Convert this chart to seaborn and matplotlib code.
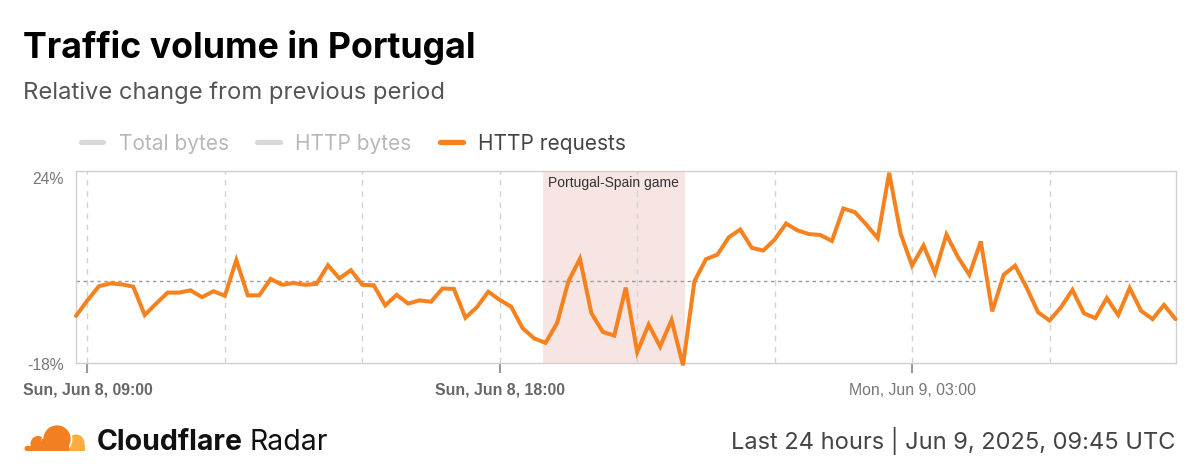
import numpy as np
import pandas as pd
import matplotlib
matplotlib.use("Agg")
import matplotlib.pyplot as plt
import seaborn as sns
from matplotlib.lines import Line2D
from matplotlib.patches import Circle, Rectangle, FancyBboxPatch
from matplotlib.transforms import Bbox, TransformedBbox, blended_transform_factory

# ---------------- data ----------------
start_time = "2025-06-08 08:45"
interval = "15min"
http_requests = [
    -7.7, -4.3, -1.2, -0.6, -0.8, -1.3, -7.5, -5.0, -2.6, -2.6,
    -2.1, -3.6, -2.3, -3.3, 4.5, -3.2, -3.2, 0.4, -0.9, -0.5,
    -0.9, -0.7, 3.4, 0.5, 2.3, -0.9, -1.0, -5.4, -3.1, -5.0,
    -4.3, -4.6, -1.7, -1.8, -8.1, -5.8, -2.4, -4.2, -5.7, -10.4,
    -12.6, -13.6, -9.3, -0.1, 4.8, -7.1, -11.2, -12.0, -1.5, -15.6,
    -9.6, -14.4, -8.6, -18.5, -0.1, 4.7, 5.7, 9.5, 11.2, 7.2,
    6.6, 9.0, 12.5, 11.0, 10.2, 10.0, 8.7, 15.8, 15.0, 12.3,
    9.3, 23.6, 10.3, 3.3, 7.7, 1.7, 10.1, 5.2, 1.3, 8.6,
    -6.7, 1.3, 3.3, -1.5, -6.9, -8.7, -5.8, -2.0, -7.1, -8.2,
    -3.8, -7.5, -1.6, -6.6, -8.4, -5.3, -8.4,
]
game_start = "2025-06-08 18:56"
game_end = "2025-06-08 22:02"
game_label = "Portugal-Spain game"
y_ticks = [-18, 24]
y_tick_labels = ["-18%", "24%"]
x_ticks = ["2025-06-08 09:00", "2025-06-08 18:00", "2025-06-09 03:00"]
x_tick_labels = ["Sun, Jun 8, 09:00", "Sun, Jun 8, 18:00", "Mon, Jun 9, 03:00"]
grid_start = "2025-06-08 09:00"
grid_step = "3h"
legend_labels = ["Total bytes", "HTTP bytes", "HTTP requests"]
legend_active = [False, False, True]
title = "Traffic volume in Portugal"
subtitle = "Relative change from previous period"
footer_right = "Last 24 hours | Jun 9, 2025, 09:45 UTC"

ORANGE = "#f6821f"

sns.set_theme(style="white")
plt.rcParams["font.family"] = ["Inter", "DejaVu Sans"]

times = pd.date_range(start_time, periods=len(http_requests), freq=interval)
df = pd.DataFrame({"time": times, "value": http_requests})

W, H = 1200, 477
fig = plt.figure(figsize=(W / 100, H / 100), dpi=100)
fig.patch.set_facecolor("white")

def fx(px):
    return px / W

def fy(py):
    return 1 - py / H

ax = fig.add_axes([fx(76), fy(364), fx(1175.5 - 76), 192 / H])
ax.set_facecolor("white")

ax.axvspan(pd.Timestamp(game_start), pd.Timestamp(game_end), color="#f6e5e2", lw=0, zorder=0)
for t in pd.date_range(grid_start, times[-1], freq=grid_step):
    ax.axvline(t, color="#d2d2d2", lw=1, ls=(0, (4, 4)), zorder=1)
ax.axhline(0, color="#9a9a9a", lw=1, ls=(0, (2.5, 2.5)), zorder=1)

sns.lineplot(data=df, x="time", y="value", ax=ax, color=ORANGE, lw=2.9,
             zorder=3, clip_on=False, solid_joinstyle="miter")

ax.set_xlim(times[0], times[-1])
ax.set_ylim(-18, 24)
ax.set_xlabel("")
ax.set_ylabel("")
for s in ax.spines.values():
    s.set_color("#d0d0d0")
    s.set_linewidth(1)

ax.set_xticks(pd.to_datetime(x_ticks))
ax.set_xticklabels(x_tick_labels)
ax.tick_params(axis="x", length=7, width=1.5, color="#9a9a9a", pad=6.5, bottom=True)
clipbox = TransformedBbox(Bbox([[fx(23), 0], [1, 1]]), fig.transFigure)
for lab, txt in zip(ax.get_xticklabels(), x_tick_labels):
    lab.set_family(["Liberation Sans", "DejaVu Sans"])
    lab.set_fontsize(11.4)
    if txt.startswith("Sun"):
        lab.set_fontweight("bold")
        lab.set_color("#666666")
    else:
        lab.set_color("#777777")
    lab.set_clip_on(True)
    lab.set_clip_box(clipbox)

ax.set_yticks(y_ticks)
ax.set_yticklabels(y_tick_labels)
ax.tick_params(axis="y", length=0, pad=9, left=True)
for lab in ax.get_yticklabels():
    lab.set_family(["Liberation Sans", "DejaVu Sans"])
    lab.set_fontsize(11.3)
    lab.set_color("#777777")
ax.get_yticklabels()[1].set_verticalalignment("top")

mid = pd.Timestamp(game_start) + (pd.Timestamp(game_end) - pd.Timestamp(game_start)) / 2
ax.text(mid, 0.978, game_label, transform=blended_transform_factory(ax.transData, ax.transAxes),
        ha="center", va="top", fontsize=10, family=["Liberation Sans", "DejaVu Sans"],
        color="#333333", zorder=4)

# ---------------- titles ----------------
fig.text(fx(23), fy(58), title, fontsize=25.7, fontweight="bold", color="black", va="baseline")
fig.text(fx(23), fy(99), subtitle, fontsize=17.1, color="#555555", va="baseline")

# ---------------- legend ----------------
marker_x = [(80.5, 103.5), (256.5, 279.5), (440, 463)]
text_x = [119, 295, 478]
for (x0, x1), tx, lab, act in zip(marker_x, text_x, legend_labels, legend_active):
    col = ORANGE if act else "#d8d8d8"
    fig.add_artist(Line2D([fx(x0), fx(x1)], [fy(143), fy(143)], transform=fig.transFigure,
                          lw=3.8, color=col, solid_capstyle="round"))
    fig.text(fx(tx), fy(150), lab, fontsize=15, color="#444444" if act else "#b8b8b8",
             va="baseline")

# ---------------- footer ----------------
lax = fig.add_axes([fx(24), fy(452), fx(62), 32 / H])
lax.set_xlim(0, 62)
lax.set_ylim(0, 32)
lax.axis("off")
light = "#fbad41"
dark = "#f38020"
lax.add_patch(Circle((52, 8), 8.5, color=light, lw=0))
lax.add_patch(Rectangle((44, 0), 17, 6, color=light, lw=0))
lax.add_patch(FancyBboxPatch((0.5, 0), 45, 5, boxstyle="round,pad=0,rounding_size=2.5",
                             color=dark, lw=0))
lax.add_patch(Circle((14, 7.5), 7.5, color=dark, lw=0))
lax.add_patch(Circle((33, 12), 14.5, facecolor=dark, edgecolor="white", lw=1.2))
lax.add_patch(Rectangle((18, 0), 27, 12, color=dark, lw=0))

t1 = fig.text(fx(97), fy(450), "Cloudflare", fontsize=20.5, fontweight="bold",
              color="#111111", va="baseline")
fig.canvas.draw()
bb = t1.get_window_extent(renderer=fig.canvas.get_renderer())
fig.text((bb.x1 + 6) / W, fy(450), "Radar", fontsize=20.5, color="#111111", va="baseline")

fig.text(fx(1175), fy(449), footer_right, fontsize=17, color="#444444", ha="right",
         va="baseline")

fig.savefig("out.png", dpi=100, facecolor="white")
